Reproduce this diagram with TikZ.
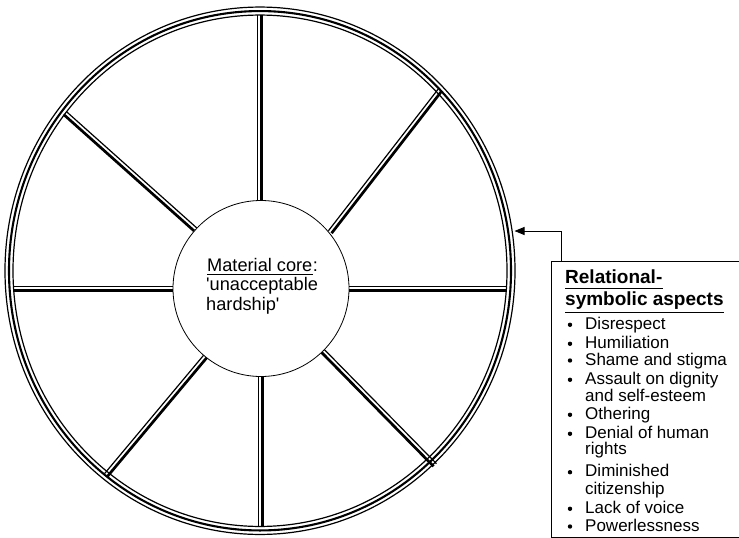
\documentclass[tikz,border=0pt]{standalone}
\usepackage{fontspec}
\setmainfont{Liberation Sans}[Ligatures=TeXOff]
\usetikzlibrary{calc,arrows.meta}
\newcommand\spokepair[2]{%
  \draw[spokethin] ($(#1)!2pt!90:(#2)$) -- ($(#2)!2pt!-90:(#1)$);
  \draw[spokethick] ($(#1)!2pt!-90:(#2)$) -- ($(#2)!2pt!90:(#1)$);
}
\begin{document}
\begin{tikzpicture}[x=1pt,y=-1pt,
  thinrim/.style={line width=1.2pt},
  midrim/.style={line width=2.1pt},
  spokethin/.style={line width=1.2pt},
  spokethick/.style={line width=2.7pt},
  coretext/.style={anchor=base west,inner sep=0pt,font=\fontsize{18.2}{20}\selectfont},
  titletext/.style={anchor=base west,inner sep=0pt,font=\fontsize{19}{21}\selectfont\bfseries},
  itemtext/.style={anchor=base west,inner sep=0pt,font=\fontsize{17}{19}\selectfont},
  uline/.style={line width=1.3pt},
]
\useasboundingbox (0,0) rectangle (739,538);
% spoke end points
\coordinate (iT) at (259.5,200);
\coordinate (rT) at (259.5,15);
\coordinate (iB) at (260.2,376.5);
\coordinate (rB) at (260.2,527);
\coordinate (iL) at (173,288.4);
\coordinate (rL) at (13,288.4);
\coordinate (iR) at (349,288.6);
\coordinate (rR) at (507,288.6);
\coordinate (iUR) at (330,232);
\coordinate (rUR) at (440,90);
\coordinate (iUL) at (195.4,229.4);
\coordinate (rUL) at (65,113);
\coordinate (iLL) at (205.4,356.2);
\coordinate (rLL) at (106,475);
\coordinate (iLR) at (322.8,350.8);
\coordinate (rLR) at (435,465);
% spokes
\spokepair{iT}{rT}
\spokepair{iR}{rR}
\spokepair{rB}{iB}
\spokepair{rL}{iL}
\spokepair{iUR}{rUR}
\spokepair{rUL}{iUL}
\spokepair{rLL}{iLL}
\spokepair{iLR}{rLR}
% rim
\draw[thinrim] (260,270.75) ellipse [x radius=255pt, y radius=263.7pt];
\draw[midrim] (260,270.75) ellipse [x radius=251pt, y radius=259.7pt];
\draw[thinrim] (260,270.75) ellipse [x radius=247pt, y radius=255.7pt];
% core
\node[draw,circle,fill=white,line width=0.8pt,minimum size=176pt,inner sep=0pt] (core) at (261,288.5) {};
\node[coretext] (mc) at (207,271) {Material core};
\node[coretext] (colon) at (mc.base east) {:};
\draw[uline,line width=1pt] ([yshift=-3pt]mc.base west) -- ([yshift=-3pt]mc.base east);
\node[coretext] (ua) at (206,290.7) {'unacceptable};
\node[coretext] (hs) at (206,310) {hardship'};
% box
\node[draw,line width=1pt,minimum width=187.5pt,minimum height=276pt,inner sep=0pt,anchor=north west] (box) at (551,261) {};
\coordinate (tip) at (514.5,231);
\draw[line width=0.9pt,-{Triangle[length=10pt,width=8pt]}] ([xshift=10pt]box.north west) |- (tip);
\node[titletext] (t1) at (565,283.3) {Relational-};
\draw[uline] ([yshift=-5pt]t1.base west) -- ([yshift=-5pt]t1.base east);
\node[titletext] (t2) at (565,305) {symbolic aspects};
\draw[uline] ([yshift=-7.7pt]t2.base west) -- ([yshift=-7.7pt]t2.base east);
% items
\foreach \y/\txt/\b [count=\i] in {
  329.3/Disrespect/1,
  348.3/Humiliation/1,
  365/Shame and stigma/1,
  384.3/Assault on dignity/1,
  401/and self-esteem/0,
  419.3/Othering/1,
  438.3/Denial of human/1,
  454/rights/0,
  476.7/Diminished/1,
  494.3/citizenship/0,
  513.3/Lack of voice/1,
  531/Powerlessness/1}{
  \node[itemtext] (item\i) at (585,\y) {\txt};
  \ifnum\b=1 \fill (570,\y-4.5) circle [radius=2.2pt]; \fi
}
\end{tikzpicture}
\end{document}
